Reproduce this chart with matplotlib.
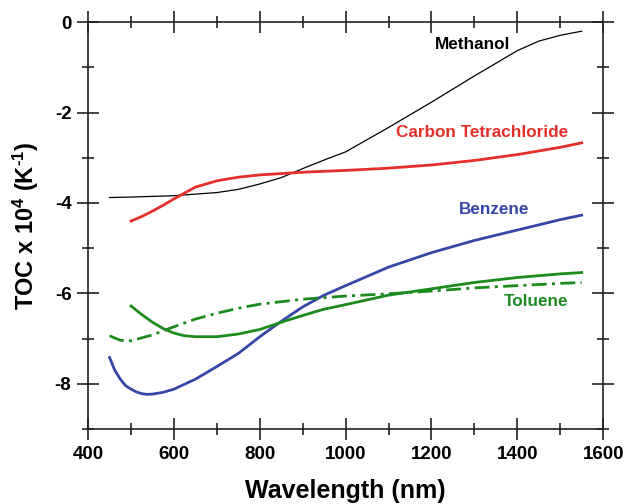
import numpy as np
import matplotlib.pyplot as plt
from matplotlib.ticker import MultipleLocator

plt.rcParams.update({
    "font.family": ["Liberation Sans", "DejaVu Sans"],
    "font.weight": "bold",
    "axes.unicode_minus": False,
    "mathtext.fontset": "custom",
    "mathtext.bf": "Liberation Sans:bold",
    "mathtext.rm": "Liberation Sans:bold",
    "mathtext.default": "bf",
})

# values (wavelength in nm, TOC x 10^4 in 1/K)
meth_wl = [450, 500, 600, 700, 750, 800, 850, 900, 950, 1000, 1100, 1200, 1300, 1400, 1450, 1500, 1550]
meth_toc = [-3.88, -3.87, -3.84, -3.77, -3.70, -3.58, -3.44, -3.24, -3.05, -2.87, -2.33, -1.77, -1.19, -0.63, -0.42, -0.29, -0.20]

ccl4_wl = [500, 525, 550, 575, 600, 650, 700, 750, 800, 900, 1000, 1100, 1200, 1300, 1400, 1500, 1550]
ccl4_toc = [-4.40, -4.30, -4.18, -4.05, -3.91, -3.65, -3.51, -3.43, -3.38, -3.32, -3.28, -3.23, -3.16, -3.06, -2.93, -2.77, -2.67]

benz_wl = [450, 462, 475, 487, 500, 512, 525, 537, 550, 575, 600, 650, 700, 750, 800, 850, 900, 950, 1000, 1100, 1200, 1300, 1400, 1500, 1550]
benz_toc = [-7.42, -7.70, -7.90, -8.04, -8.12, -8.18, -8.22, -8.235, -8.23, -8.19, -8.12, -7.90, -7.62, -7.33, -6.96, -6.62, -6.30, -6.04, -5.83, -5.42, -5.10, -4.83, -4.60, -4.37, -4.27]

tol_wl = [500, 525, 550, 575, 600, 625, 650, 700, 750, 800, 850, 900, 950, 1000, 1100, 1200, 1300, 1400, 1500, 1550]
tol_toc = [-6.28, -6.47, -6.64, -6.78, -6.88, -6.94, -6.96, -6.96, -6.90, -6.80, -6.64, -6.49, -6.35, -6.25, -6.04, -5.90, -5.76, -5.65, -5.57, -5.54]

tol2_wl = [450, 475, 500, 550, 600, 650, 700, 750, 800, 900, 1000, 1100, 1200, 1300, 1400, 1500, 1550]
tol2_toc = [-6.94, -7.04, -7.05, -6.92, -6.74, -6.57, -6.44, -6.33, -6.24, -6.13, -6.06, -6.01, -5.95, -5.88, -5.83, -5.78, -5.76]

fig = plt.figure(figsize=(6.25, 5.04), dpi=100)
ax = fig.add_axes([0.141, 0.149, 0.824, 0.807])

red = "#e3302a"
blue = "#3546a8"
green = "#1d8a1d"

ax.plot(meth_wl, meth_toc, color="black", lw=0.9)
ax.plot(ccl4_wl, ccl4_toc, color=red, lw=2.0)
ax.plot(benz_wl, benz_toc, color=blue, lw=2.0)
ax.plot(tol_wl, tol_toc, color=green, lw=2.0)
ax.plot(tol2_wl, tol2_toc, color=green, lw=2.0, dashes=(5.4, 1.9, 1.1, 1.9))

lab_fs = 12.3
ax.text(1295, -0.5, "Methanol", color="black", fontsize=lab_fs, fontweight="bold", ha="center", va="center")
ax.text(1317, -2.45, "Carbon Tetrachloride", color=red, fontsize=lab_fs, fontweight="bold", ha="center", va="center")
ax.text(1347, -4.15, "Benzene", color=blue, fontsize=lab_fs, fontweight="bold", ha="center", va="center")
ax.text(1443, -6.18, "Toluene", color=green, fontsize=lab_fs, fontweight="bold", ha="center", va="center")

ax.set_xlim(400, 1600)
ax.set_ylim(-9, 0)
ax.xaxis.set_major_locator(MultipleLocator(200))
ax.xaxis.set_minor_locator(MultipleLocator(100))
ax.yaxis.set_major_locator(MultipleLocator(2))
ax.yaxis.set_minor_locator(MultipleLocator(1))

ax.tick_params(which="both", direction="inout", top=True, right=True, color="#222222", width=1.2)
ax.tick_params(which="major", length=16, labelsize=13.5, pad=4)
ax.tick_params(which="minor", length=8)
for s in ax.spines.values():
    s.set_linewidth(1.2)
    s.set_color("#222222")

ax.set_xlabel("Wavelength (nm)", fontsize=18, fontweight="bold")
ax.set_ylabel(r"TOC x 10$^4$ (K$^{\text{-}1}$)", fontsize=17, fontweight="bold")
ax.xaxis.set_label_coords(0.5, -0.124)
ax.yaxis.set_label_coords(-0.092, 0.5)

fig.savefig("out.png", dpi=100)
